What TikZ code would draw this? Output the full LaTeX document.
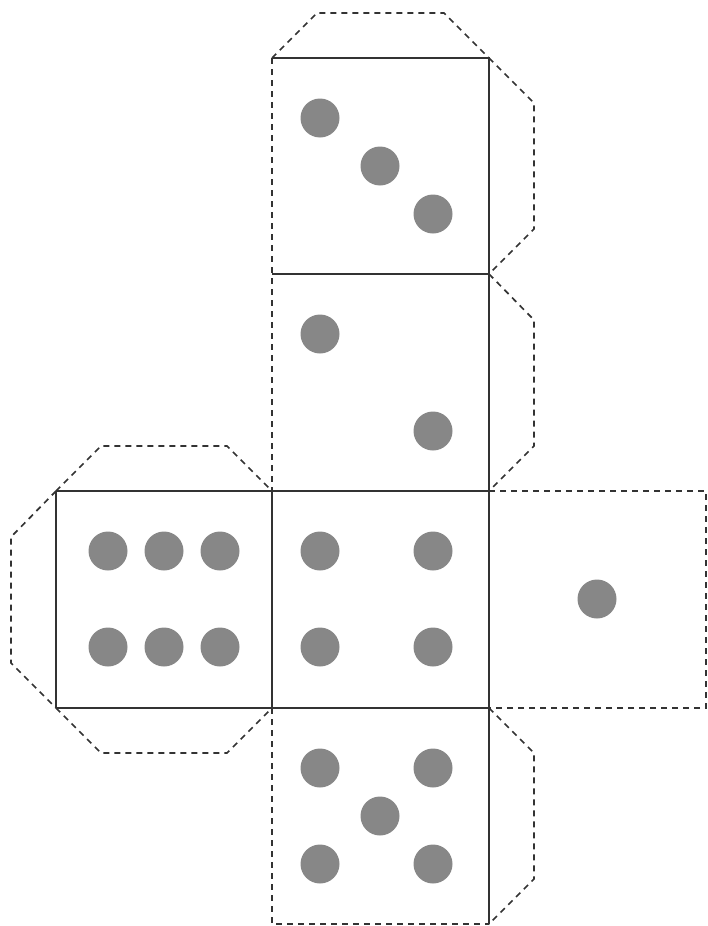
\documentclass[tikz,border=0pt]{standalone}
\begin{document}
\begin{tikzpicture}[x=1pt,y=-1pt,
  foldline/.style={draw=black!80,line width=2pt},
  cutline/.style={draw=black!80,line width=1.7pt,dash pattern=on 6pt off 5pt},
  pip/.style={circle,fill=black!47,draw=none,minimum size=39pt,inner sep=0pt}]
\useasboundingbox (0,0) rectangle (708,926);
% dashed outlines and tabs
\draw[cutline] (272,58) -- (317,13) -- (444,13) -- (489,58);
\draw[cutline] (489,58) -- (534,103) -- (534,229) -- (489,274);
\draw[cutline] (489,274) -- (534,320) -- (534,446) -- (489,491);
\draw[cutline] (489,708) -- (534,753) -- (534,879) -- (489,924);
\draw[cutline] (56,491) -- (101,446) -- (227,446) -- (272,491);
\draw[cutline] (56,491) -- (11,537) -- (11,663) -- (56,708);
\draw[cutline] (56,708) -- (101,753) -- (227,753) -- (272,708);
\draw[cutline] (272,58) -- (272,491);
\draw[cutline] (272,708) -- (272,924) -- (489,924);
\draw[cutline] (489,491) -- (706,491) -- (706,708) -- (489,708);
% solid fold lines
\draw[foldline] (272,58) -- (489,58) -- (489,924);
\draw[foldline] (272,274) -- (489,274);
\draw[foldline] (56,491) -- (489,491);
\draw[foldline] (56,708) -- (489,708);
\draw[foldline] (56,491) -- (56,708);
\draw[foldline] (272,491) -- (272,708);
% pips: three
\node[pip] (t1) at (320,118) {};
\node[pip] (t2) at (380,166) {};
\node[pip] (t3) at (433,214) {};
% two
\node[pip] (w1) at (320,334) {};
\node[pip] (w2) at (433,431) {};
% four
\node[pip] (f1) at (320,551) {};
\node[pip] (f2) at (433,551) {};
\node[pip] (f3) at (320,647) {};
\node[pip] (f4) at (433,647) {};
% six
\node[pip] (s1) at (108,551) {};
\node[pip] (s2) at (164,551) {};
\node[pip] (s3) at (220,551) {};
\node[pip] (s4) at (108,647) {};
\node[pip] (s5) at (164,647) {};
\node[pip] (s6) at (220,647) {};
% one
\node[pip] (o1) at (597,599) {};
% five
\node[pip] (v1) at (320,768) {};
\node[pip] (v2) at (433,768) {};
\node[pip] (v3) at (380,816) {};
\node[pip] (v4) at (320,864) {};
\node[pip] (v5) at (433,864) {};
\end{tikzpicture}
\end{document}
